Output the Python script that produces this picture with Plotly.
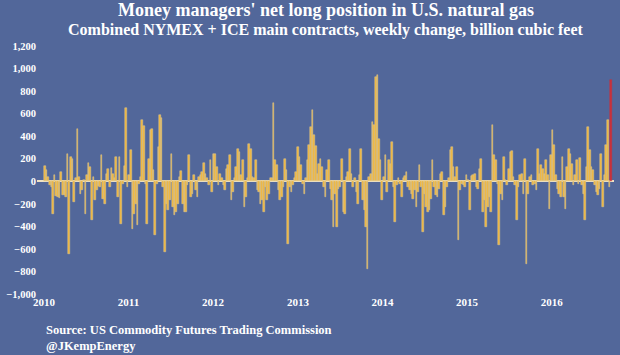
import pandas as pd
import plotly.graph_objects as go

# Weekly change in money managers' net long position (bcf)
v2010 = [133, 98, 40, -30, -50, -287, 53, -130, -139, -145, 83, -125, -125, -139, 240,
         -643, 216, 200, -184, 30, 462, 40, -110, -80, 10, -287, 60, 163, 127, -347,
         40, -169, -80, -45, -50, 231, -154, -198, 68, 113, -50, 121, 68, 25, 216,
         -139, 216, -376, -20, 133, 646, -50]
v2011 = [53, 281, -420, -287, -198, -391, -20, 40, 542, 489, -20, -376, 200, 453, 468,
         98, -480, -20, 305, 587, 557, -50, -628, -198, -258, -169, 246, -228, -302, -272,
         -198, 40, 92, -198, -272, -272, -36, 231, -139, -110, 53, -80, -139, 40, 53,
         83, 163, 68, 25, -36, 193, -95]
v2012 = [240, 246, 127, -36, 68, 25, -36, -80, 113, 142, 231, -169, -95, 25, 127,
         290, 261, 53, 187, -228, -139, 25, 335, 290, 40, 33, 193, -80, -95, -198,
         -169, -272, -50, -169, -110, 33, 25, 690, 187, 142, -80, -169, -139, -50, 200,
         98, -554, -50, -95, -36, 25, 83]
v2013 = [305, 216, 142, -20, -110, 25, 187, 320, 483, 631, 409, 311, 68, 151, 200,
         127, -50, -139, 98, 187, -65, -169, -406, -110, -406, -65, -50, 200, -272, -287,
         40, 83, 290, 68, -50, 33, -95, -198, 53, 290, -169, -258, -406, -776, 40,
         68, 527, 497, 927, 942, 379, 187]
v2014 = [-169, 40, 231, -95, 187, 150, 350, -50, -361, -36, 25, -20, -139, 33, 44,
         83, -50, -80, -110, -154, -80, -228, -95, 142, -50, -450, -110, -228, -272, -258,
         -154, 187, -50, -124, -139, -65, 68, 83, -302, -228, -50, 25, 276, 300, 127,
         40, 127, -524, -80, -20, -36, -50]
v2015 = [53, 10, -258, 44, 53, 68, -50, -65, 113, 200, -272, -169, -406, -228, -139,
         -272, 498, 231, 187, -20, -569, -110, -169, 216, 10, -36, 113, 261, 267, 40,
         -36, -347, -50, 53, 68, -110, 200, -732, -110, 38, 53, -36, -20, -80, 290,
         68, 142, 113, 68, 187, 53, -243]
v2016 = [231, 453, 320, 53, -65, -110, -139, 216, -139, -243, 127, 290, 246, 157, -36,
         53, 187, -20, 207, -36, -110, -347, 127, 483, 275, 127, 98, -36, -95, -124,
         -65, 246, -228, 53, 320, 542, -50, 897]

values = v2010 + v2011 + v2012 + v2013 + v2014 + v2015 + v2016
dates = pd.date_range("2010-01-05", periods=len(values), freq="7D")

tick_vals = [-1000, -800, -600, -400, -200, 0, 200, 400, 600, 800, 1000, 1200]
year_ticks = ["2010", "2011", "2012", "2013", "2014", "2015", "2016"]

title = "Money managers' net long position in U.S. natural gas"
subtitle = "Combined NYMEX + ICE main contracts, weekly change, billion cubic feet"
source = "Source: US Commodity Futures Trading Commission"
handle = "@JKempEnergy"

gold = "#f1b63c"
red = "#c8323c"
colors = [gold] * (len(values) - 1) + [red]
line_colors = ["#dcc896"] * (len(values) - 1) + [red]

FONT = "Liberation Serif"

fig = go.Figure(go.Bar(
    x=dates, y=values,
    marker=dict(color=colors, line=dict(color=line_colors, width=0.5)),
))

fig.update_layout(
    width=620, height=355,
    margin=dict(l=33, r=6, t=46, b=61),
    paper_bgcolor="#52679a",
    plot_bgcolor="rgba(0,0,0,0)",
    bargap=0,
    showlegend=False,
    font=dict(family=FONT, color="white"),
    xaxis=dict(
        type="date",
        range=["2009-12-02", "2016-09-26"],
        tickvals=[y + "-01-01" for y in year_ticks],
        ticktext=year_ticks,
        tickfont=dict(family=FONT, size=11, color="white", weight="bold"),
        showgrid=False, zeroline=False, showline=False, ticks="",
    ),
    yaxis=dict(
        range=[-1000, 1200],
        tickvals=tick_vals,
        tickformat=",",
        tickfont=dict(family=FONT, size=10.5, color="white", weight="bold"),
        showgrid=False,
        zeroline=True, zerolinecolor="#eee2c4", zerolinewidth=1.5,
        showline=False, ticks="",
    ),
    annotations=[
        dict(text="<b>" + title + "</b>", x=0.5, y=1, xref="paper", yref="paper",
             xanchor="center", yanchor="bottom", yshift=24, showarrow=False,
             font=dict(family=FONT, size=18, color="white")),
        dict(text="<b>" + subtitle + "</b>", x=0.5, y=1, xref="paper", yref="paper",
             xanchor="center", yanchor="bottom", yshift=5, showarrow=False,
             font=dict(family=FONT, size=16, color="white")),
        dict(text="<b>" + source + "</b>", x=0, y=0, xref="paper", yref="paper",
             xanchor="left", yanchor="top", showarrow=False, xshift=7, yshift=-27,
             font=dict(family=FONT, size=12.5, color="white")),
        dict(text="<b>" + handle + "</b>", x=0, y=0, xref="paper", yref="paper",
             xanchor="left", yanchor="top", showarrow=False, xshift=7, yshift=-43,
             font=dict(family=FONT, size=12.5, color="white")),
    ],
)

fig.write_html(
    "out.html",
    config={"displayModeBar": False},
    post_script="document.body.style.margin='0';document.body.style.padding='0';",
)
